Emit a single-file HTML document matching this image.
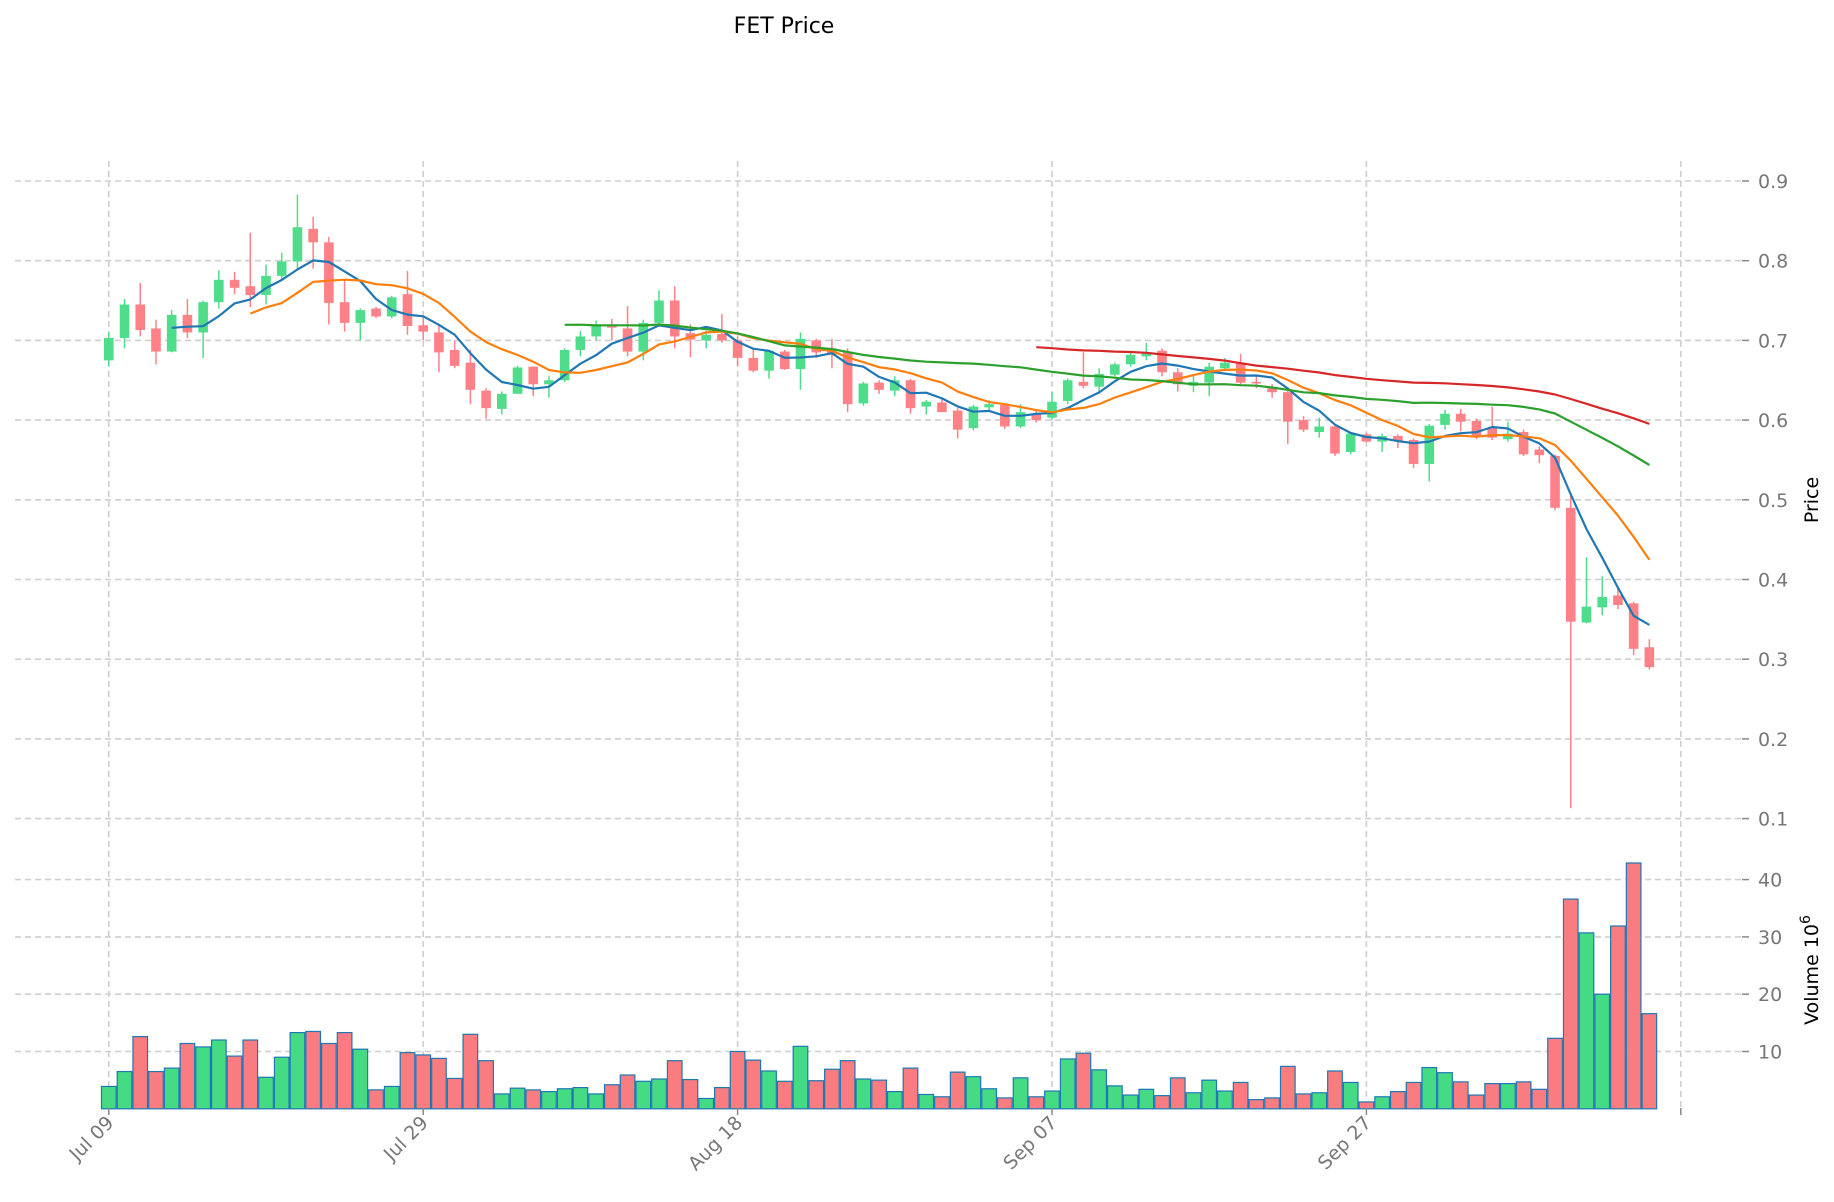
<!DOCTYPE html>
<html><head><meta charset="utf-8"><style>
html,body{margin:0;padding:0;background:#fff;}
svg{display:block;font-family:"DejaVu Sans","Liberation Sans",sans-serif;}
</style></head><body>
<svg id="chart" width="1834" height="1202" viewBox="0 0 1834 1202" xmlns="http://www.w3.org/2000/svg">
<text x="784" y="33" font-size="22" text-anchor="middle" fill="#000">FET Price</text>
<g id="grid"></g>
<g id="vol"></g>
<g id="candles"></g>
<g id="mas"></g>
<g id="axes"></g>
<text transform="translate(1818,500) rotate(-90)" font-size="19" text-anchor="middle" fill="#000">Price</text>
<text transform="translate(1818,970) rotate(-90)" font-size="19" text-anchor="middle" fill="#000">Volume  10<tspan dy="-8" font-size="14">6</tspan></text>
</svg>
<script>
const opens =[.675,.703,.745,.715,.686,.732,.71,.748,.776,.768,.757,.781,.799,.84,.823,.748,.722,.74,.73,.758,.719,.71,.688,.672,.637,.614,.633,.667,.645,.65,.688,.705,.72,.715,.686,.722,.75,.709,.70,.708,.70,.678,.662,.686,.664,.70,.69,.685,.621,.647,.637,.65,.617,.622,.612,.59,.616,.619,.592,.607,.603,.624,.648,.642,.657,.67,.68,.687,.66,.643,.647,.665,.672,.648,.64,.635,.60,.585,.592,.56,.582,.573,.58,.575,.545,.594,.608,.599,.59,.576,.585,.563,.555,.49,.346,.365,.38,.37,.315];
const highs =[.71,.752,.772,.726,.738,.752,.75,.788,.786,.835,.795,.81,.883,.855,.83,.777,.74,.742,.756,.787,.73,.72,.70,.688,.64,.636,.668,.667,.655,.69,.712,.725,.727,.743,.726,.763,.768,.72,.712,.733,.705,.69,.688,.688,.71,.702,.702,.69,.648,.65,.655,.652,.625,.628,.615,.619,.625,.62,.62,.612,.635,.652,.685,.665,.672,.685,.697,.69,.665,.658,.672,.678,.683,.655,.645,.637,.605,.603,.593,.585,.584,.583,.582,.577,.595,.613,.614,.602,.617,.598,.588,.567,.557,.505,.428,.404,.39,.372,.325];
const lows  =[.668,.69,.705,.67,.685,.703,.678,.74,.758,.742,.745,.776,.79,.79,.72,.711,.70,.728,.728,.707,.70,.66,.665,.62,.602,.607,.633,.63,.628,.648,.68,.70,.70,.68,.675,.72,.69,.679,.69,.697,.668,.66,.652,.663,.638,.678,.665,.61,.618,.633,.63,.608,.607,.61,.577,.587,.61,.589,.59,.597,.60,.62,.64,.633,.655,.667,.675,.655,.636,.635,.63,.663,.645,.64,.628,.57,.585,.578,.555,.557,.572,.56,.565,.54,.523,.588,.586,.576,.575,.573,.555,.546,.487,.113,.345,.355,.363,.305,.287];
const closes=[.703,.745,.713,.686,.732,.71,.748,.776,.766,.757,.781,.799,.842,.823,.747,.722,.738,.73,.754,.718,.711,.685,.668,.638,.615,.633,.666,.645,.65,.688,.705,.72,.716,.686,.722,.75,.705,.701,.707,.70,.678,.662,.687,.664,.702,.685,.682,.62,.646,.638,.65,.615,.623,.61,.588,.617,.62,.592,.61,.60,.623,.65,.643,.658,.67,.682,.685,.66,.645,.648,.667,.672,.647,.646,.635,.598,.588,.592,.558,.583,.573,.58,.574,.545,.593,.608,.598,.58,.578,.583,.557,.556,.49,.347,.366,.378,.368,.313,.29];
const volumes=[3.9,6.5,12.6,6.5,7.1,11.4,10.8,12.0,9.2,12.0,5.5,9.0,13.3,13.5,11.4,13.3,10.4,3.3,3.9,9.8,9.4,8.8,5.3,13.0,8.4,2.6,3.6,3.3,3.0,3.5,3.7,2.6,4.2,5.9,4.8,5.2,8.4,5.1,1.8,3.7,10.0,8.5,6.6,4.8,10.9,4.9,6.9,8.4,5.2,5.0,3.0,7.1,2.5,2.1,6.4,5.6,3.5,1.9,5.4,2.1,3.1,8.7,9.7,6.8,4.0,2.4,3.4,2.3,5.4,2.8,5.0,3.1,4.6,1.6,1.9,7.4,2.6,2.8,6.6,4.6,1.2,2.1,3.0,4.6,7.2,6.3,4.7,2.4,4.4,4.4,4.7,3.4,12.3,36.6,30.7,20.0,31.9,42.9,16.6];
const maPeriods=[5,10,30,60];
const priceTicks=[0.1,0.2,0.3,0.4,0.5,0.6,0.7,0.8,0.9];
const volTicks=[10,20,30,40];
const dateLabels=["Jul 09","Jul 29","Aug 18","Sep 07","Sep 27","Oct 17"];
const dateIdx=[0,20,40,60,80,100];

const NS="http://www.w3.org/2000/svg";
const X0=108.8, DX=15.72, XL=15, XR=1742;
function xS(i){return X0+i*DX;}
function yP(p){return 181+(0.9-p)*797;}
function yV(v){return 1108.8-v*5.73;}
function mk(tag,attrs,parent){const e=document.createElementNS(NS,tag);for(const k in attrs)e.setAttribute(k,attrs[k]);parent.appendChild(e);return e;}
const grid=document.getElementById('grid'),axes=document.getElementById('axes');
priceTicks.forEach(t=>{
  const y=yP(t);
  const l=mk('line',{x1:XL,x2:XR,y1:y,y2:y,stroke:'#cfcfcf','stroke-width':1.6,'stroke-dasharray':'6,4'},grid);
  
  
  mk('line',{x1:XR,x2:XR+7,y1:y,y2:y,stroke:'#888','stroke-width':1.5},axes);
  const tx=mk('text',{x:1758,y:y+7,'font-size':19,fill:'#777'},axes);
  tx.textContent=t.toFixed(1);
  
  
});
volTicks.forEach(t=>{
  const y=yV(t);
  const l=mk('line',{x1:XL,x2:XR,y1:y,y2:y,stroke:'#cfcfcf','stroke-width':1.6,'stroke-dasharray':'6,4'},grid);
  
  
  mk('line',{x1:XR,x2:XR+7,y1:y,y2:y,stroke:'#888','stroke-width':1.5},axes);
  const tx=mk('text',{x:1758,y:y+7,'font-size':19,fill:'#777'},axes);
  tx.textContent=String(t);
  
  
});
dateIdx.forEach((d,k)=>{
  const x=xS(d);
  const l=mk('line',{x1:x,x2:x,y1:161,y2:1108,stroke:'#cfcfcf','stroke-width':1.6,'stroke-dasharray':'6,4'},grid);
  
  
  mk('line',{x1:x,x2:x,y1:1108,y2:1115,stroke:'#888','stroke-width':1.5},axes);
  if(k<5){
    const tx=mk('text',{x:0,y:0,'font-size':19,fill:'#777','text-anchor':'end',transform:`translate(${x+6},${1124}) rotate(-45)`},axes);
    tx.textContent=dateLabels[k];
    
    
  }
});
const vol=document.getElementById('vol'),cg=document.getElementById('candles'),mg=document.getElementById('mas');
const UP='#4fdd8b',DN='#fd8186';
closes.forEach((c,i)=>{
  const up=c>=opens[i];
  const x=xS(i);
  const b=mk('rect',{x:x-7.3,y:yV(volumes[i]),width:14.6,height:yV(0)-yV(volumes[i]),fill:up?'#45db85':'#f87c80',stroke:'#1f77b4','stroke-width':1.2},vol);
  
  
  const w=mk('line',{x1:x,x2:x,y1:yP(highs[i]),y2:yP(lows[i]),stroke:up?UP:DN,'stroke-width':1.5},cg);
  
  
  const top=Math.max(opens[i],c),bot=Math.min(opens[i],c);
  const r=mk('rect',{x:x-4.8,y:yP(top),width:9.6,height:Math.max(1.5,yP(bot)-yP(top)),fill:up?UP:DN},cg);
  
  
});
const maColors=['#1f77b4','#ff7f0e','#2ca02c','#d62728'];
maPeriods.forEach((p,k)=>{
  let pts=[];
  for(let i=p-1;i<closes.length;i++){
    let s=0;for(let j=i-p+1;j<=i;j++)s+=closes[j];
    pts.push(xS(i).toFixed(1)+','+yP(s/p).toFixed(1));
  }
  const pl=mk('polyline',{points:pts.join(' '),fill:'none',stroke:maColors[k],'stroke-width':2.2,'stroke-linejoin':'round'},mg);
  
  
});
</script>
</body></html>
